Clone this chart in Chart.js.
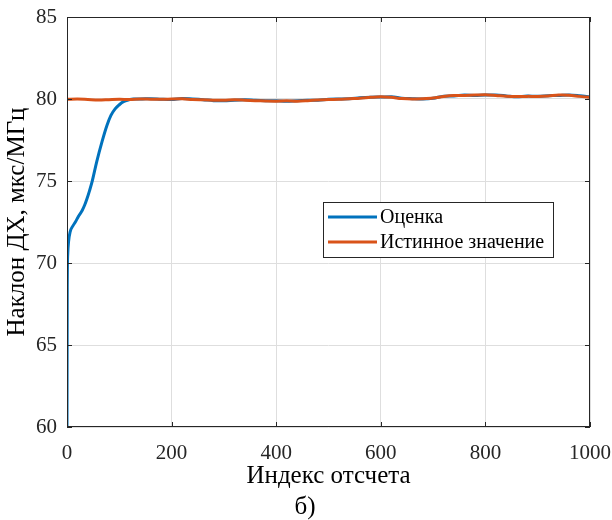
<!DOCTYPE html>
<html>
<head>
<meta charset="utf-8">
<script src="https://cdn.jsdelivr.net/npm/chart.js@4/dist/chart.umd.min.js"></script>
<style>
  html, body { margin: 0; padding: 0; background: #fff; }
  #wrap { width: 612px; height: 520px; }
</style>
</head>
<body>
<div id="wrap"><canvas id="c" width="612" height="520"></canvas></div>
<script>
// --- ДАННЫЕ ---
const xTicks = [0, 200, 400, 600, 800, 1000];
const yTicks = [60, 65, 70, 75, 80, 85];

const estLabel = 'Оценка';
const trueLabel = 'Истинное значение';
const subCaption = 'б)';

// истинное значение (шаг 20)
const trueX = [0, 20, 40, 60, 80, 100, 120, 140, 160, 180, 200, 220, 240, 260, 280, 300, 320, 340, 360, 380, 400,
  420, 440, 460, 480, 500, 520, 540, 560, 580, 600, 620, 640, 660, 680, 700, 720, 740, 760, 780, 800,
  820, 840, 860, 880, 900, 920, 940, 960, 980, 1000];
const trueY = [79.98, 80.0, 79.97, 79.94, 79.96, 79.98, 79.97, 80.0, 79.99, 79.98, 80.0, 80.01, 79.97, 79.95, 79.93, 79.92, 79.95, 79.93, 79.9, 79.88, 79.87,
  79.89, 79.87, 79.9, 79.94, 79.97, 79.98, 80.02, 80.05, 80.1, 80.14, 80.1, 80.03, 80.0, 80.02, 80.06, 80.15, 80.21, 80.22, 80.24, 80.26,
  80.22, 80.17, 80.15, 80.16, 80.16, 80.19, 80.24, 80.23, 80.16, 80.1];

// оценка
const estX = [0, 0.5, 1.5, 3, 6, 11, 16, 22, 29, 34, 38, 43, 48, 57, 67, 76.5, 84, 92, 100, 108, 118, 127,
  140, 160, 180, 200, 220, 240, 260, 280, 300, 320, 340, 360, 380, 400,
  420, 440, 460, 480, 500, 520, 540, 560, 580, 600, 620, 640, 660, 680, 700, 720, 740, 760, 780, 800,
  820, 840, 860, 880, 900, 920, 940, 960, 980, 1000];
const estY = [60, 68.5, 70.6, 71.3, 71.9, 72.25, 72.5, 72.85, 73.2, 73.55, 73.9, 74.4, 74.96, 76.2, 77.4, 78.4, 79.0, 79.4, 79.65, 79.84, 79.95, 80.0,
  80.0, 80.02, 79.99, 79.97, 80.03, 80.0, 79.96, 79.9, 79.89, 79.93, 79.95, 79.92, 79.9, 79.89,
  79.86, 79.9, 79.92, 79.93, 79.99, 80.0, 80.01, 80.07, 80.11, 80.12, 80.13, 80.05, 80.02, 80.0, 80.04, 80.17, 80.19, 80.24, 80.22, 80.24,
  80.24, 80.19, 80.13, 80.18, 80.17, 80.2, 80.22, 80.25, 80.2, 80.12];

const BLUE = '#0072BD';
const RED = '#D95319';
const AXIS = '#262626';
const FONT = '"Liberation Serif", "Times New Roman", serif';

const toPts = (xs, ys) => xs.map((x, i) => ({ x: x, y: ys[i] }));
// без автоматических отступов под подписи — поле графика задаётся layout.padding
const noPad = s => { s.paddingTop = 0; s.paddingBottom = 0; s.paddingLeft = 0; s.paddingRight = 0; };

// рамка, внутренние риски, легенда и подпись
const framePlugin = {
  id: 'frame',
  afterDraw(chart) {
    const { ctx, chartArea: a, scales } = chart;
    ctx.save();
    ctx.strokeStyle = AXIS;
    ctx.lineWidth = 1;
    ctx.strokeRect(a.left + 0.5, a.top + 0.5, a.right - a.left - 1, a.bottom - a.top - 1);
    const tl = 5;
    ctx.beginPath();
    xTicks.forEach(v => {
      const px = Math.round(scales.x.getPixelForValue(v)) + 0.5;
      ctx.moveTo(px, a.bottom); ctx.lineTo(px, a.bottom - tl);
      ctx.moveTo(px, a.top); ctx.lineTo(px, a.top + tl);
    });
    yTicks.forEach(v => {
      const py = Math.round(scales.y.getPixelForValue(v)) + 0.5;
      ctx.moveTo(a.left, py); ctx.lineTo(a.left + tl, py);
      ctx.moveTo(a.right, py); ctx.lineTo(a.right - tl, py);
    });
    ctx.stroke();

    // легенда
    const bx = 323, by = 202, bw = 230, bh = 55;
    ctx.fillStyle = '#fff';
    ctx.fillRect(bx, by, bw, bh);
    ctx.strokeRect(bx + 0.5, by + 0.5, bw, bh);
    ctx.font = '20px ' + FONT;
    ctx.textBaseline = 'middle';
    chart.data.datasets.slice().reverse().forEach((ds, i) => {
      const y = by + 15 + i * 25;
      ctx.strokeStyle = ds.borderColor;
      ctx.lineWidth = 3;
      ctx.beginPath();
      ctx.moveTo(bx + 5, y); ctx.lineTo(bx + 54, y);
      ctx.stroke();
      ctx.fillStyle = '#000';
      ctx.fillText(ds.label, bx + 57, y + 1);
    });

    // подпись б)
    ctx.font = '25px ' + FONT;
    ctx.textAlign = 'center';
    ctx.fillStyle = '#000';
    ctx.fillText(subCaption, 305, 507);
    ctx.restore();
  }
};

new Chart(document.getElementById('c'), {
  type: 'line',
  data: {
    datasets: [
      { label: trueLabel, data: toPts(trueX, trueY), borderColor: RED, borderWidth: 3, pointRadius: 0, tension: 0.3, order: 1 },
      { label: estLabel, data: toPts(estX, estY), borderColor: BLUE, borderWidth: 3, pointRadius: 0, cubicInterpolationMode: 'monotone', order: 2 }
    ]
  },
  options: {
    responsive: false,
    animation: false,
    events: [],
    layout: { padding: { top: 17, right: 22, left: 0, bottom: 27.5 } },
    plugins: {
      legend: { display: false },
      tooltip: { enabled: false }
    },
    scales: {
      x: {
        type: 'linear', min: 0, max: 1000,
        afterBuildTicks: s => { s.ticks = xTicks.map(v => ({ value: v })); },
        afterFit: s => { s.height = 65.5; noPad(s); },
        grid: { color: '#dedede', lineWidth: 1, drawTicks: false },
        border: { display: false },
        ticks: { padding: 14, color: AXIS, maxRotation: 0, font: { family: FONT, size: 21 }, callback: v => String(v) },
        title: {
          display: true, text: 'Индекс отсчета', color: '#000',
          font: { family: FONT, size: 25, lineHeight: 1.1 },
          padding: { top: 0, bottom: 2 }
        }
      },
      y: {
        min: 60, max: 85,
        afterBuildTicks: s => { s.ticks = yTicks.map(v => ({ value: v })); },
        afterFit: s => { s.width = 67; noPad(s); },
        grid: { color: '#dedede', lineWidth: 1, drawTicks: false },
        border: { display: false },
        ticks: { padding: 10, color: AXIS, font: { family: FONT, size: 21 }, callback: v => String(v) },
        title: {
          display: true, text: 'Наклон ДХ, мкс/МГц', color: '#000',
          font: { family: FONT, size: 25, lineHeight: 1.1 },
          padding: { top: 4, bottom: 0 }
        }
      }
    }
  },
  plugins: [framePlugin]
});
</script>
</body>
</html>
